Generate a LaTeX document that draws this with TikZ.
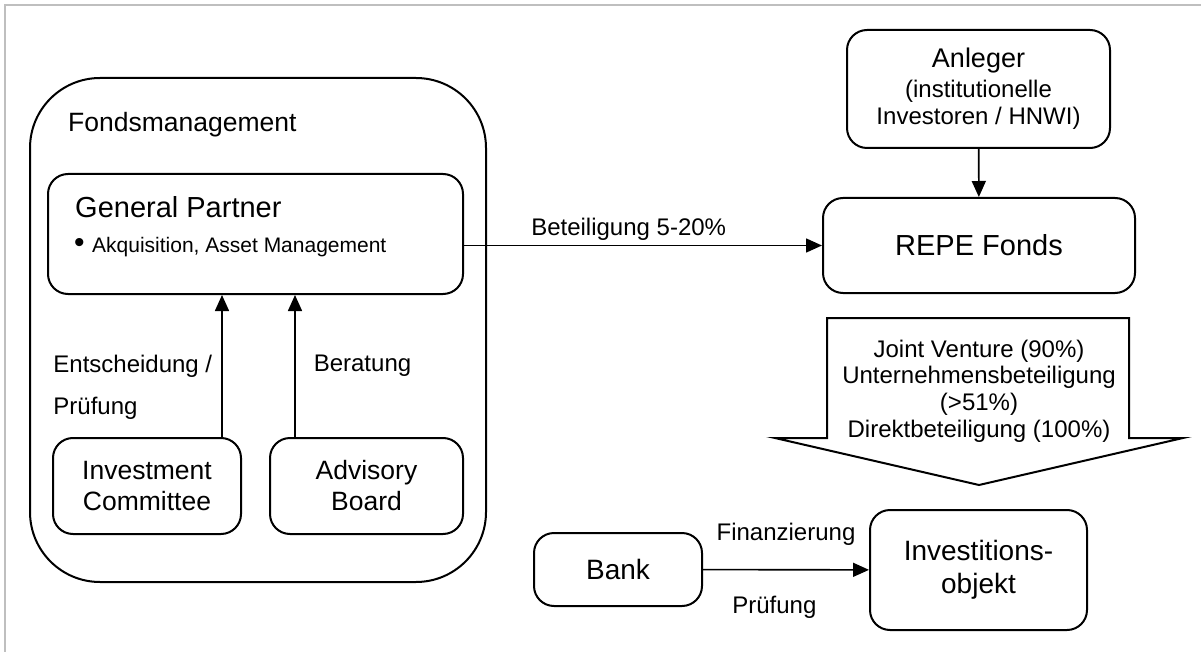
\documentclass[tikz,border=0pt]{standalone}
\usepackage{fontspec}
\setmainfont{Liberation Sans}
\usetikzlibrary{arrows.meta}

\newcommand{\gpfont}{\fontsize{29}{33}\selectfont}
\newcommand{\unitfont}{\fontsize{26.5}{31}\selectfont}
\newcommand{\objfont}{\fontsize{28}{33}\selectfont}

\begin{document}
\begin{tikzpicture} [x=1pt, y=-1pt,
            box/.style={draw, line width=2pt, rounded corners=20pt,
                align=center, inner sep=0pt},
            lbl/.style={inner sep=0pt, font=\fontsize{24}{26.7}\selectfont},
            link/.style={-{Triangle[length=16pt, width=14pt]}, line width=1.6pt},
            frame/.style={draw=black!25, line width=1.8pt}]

            \useasboundingbox (0,0) rectangle (1201,652);

            % Frame
            \draw [frame] (5,652) -- (5,5) -- (1201,5);

            % Fondsmanagement
            \node (fm) [box, rounded corners=70pt,
                minimum width=456pt, minimum height=504pt] at (258,330) {};
            \node (fmtitle) [anchor=base west, inner sep=0pt,
                font=\unitfont] at (68,132) {Fondsmanagement};

            % General Partner
            \node (gp) [box, minimum width=415pt, minimum height=120pt] at (255.5,234) {};
            \node (gptitle) [anchor=base west, inner sep=0pt,
                font=\gpfont] at (75,218) {General Partner};
            \node (gptask) [anchor=base west, inner sep=0pt,
                font=\fontsize{21}{25}\selectfont] at (74,252)
                {{\fontsize{30}{30}\selectfont\textbullet}\hspace{7.5pt}Akquisition, Asset Management};

            % Committees
            \node (ic) [box, minimum width=188pt, minimum height=96pt,
                font=\unitfont] at (147,486) {Investment\\Committee};
            \node (ab) [box, minimum width=193pt, minimum height=96pt,
                font=\unitfont] at (366.5,486) {Advisory\\Board};

            % Anleger
            \node (anleger) [box, minimum width=263pt, minimum height=118pt,
                font=\fontsize{24}{27}\selectfont] at (978.5,89)
                {{\fontsize{27}{30}\selectfont Anleger}\\[3pt](institutionelle\\Investoren / HNWI)};

            % REPE Fonds
            \node (repe) [box, minimum width=312pt, minimum height=95pt,
                font=\gpfont] at (979,245.5) {REPE Fonds};

            % Investitionsobjekt
            \node (inv) [box, minimum width=217pt, minimum height=120pt,
                font=\objfont] at (978.5,570) {Investitions-\\objekt};

            % Bank
            \node (bank) [box, minimum width=168pt, minimum height=73pt,
                font=\objfont] at (618,569.5) {Bank};

            % Block arrow
            \draw [line width=2pt] (827,318) -- (1129,318) -- (1129,438)
                -- (1183,438) -- (979,485) -- (775,438) -- (827,438) -- cycle;
            \node (deals) [lbl, align=center] at (979,391)
                {Joint Venture (90\%)\\Unternehmensbeteiligung\\(>51\%)\\Direktbeteiligung (100\%)};

            % Arrows
            \draw [link] (anleger) -- (repe);
            \draw [link] (gp.east |- repe.west)
                -- node [lbl, above=4pt, pos=0.46] {Beteiligung 5-20\%} (repe.west);
            \draw [link] ([xshift=75pt]ic.north)
                -- node [lbl, left=9pt, pos=0.35, align=left,
                    font=\fontsize{24}{42}\selectfont] {Entscheidung /\\Prüfung}
                ([xshift=75pt]ic.north |- gp.south);
            \draw [link] ([xshift=-71.5pt]ab.north)
                -- node [lbl, right=18pt, pos=0.5] {Beratung}
                ([xshift=-71.5pt]ab.north |- gp.south);
            \draw [link] (bank)
                -- node [lbl, above=23pt] {Finanzierung}
                   node [lbl, below=25.5pt, pos=0.43] {Prüfung} (inv);
        \end{tikzpicture}
\end{document}
